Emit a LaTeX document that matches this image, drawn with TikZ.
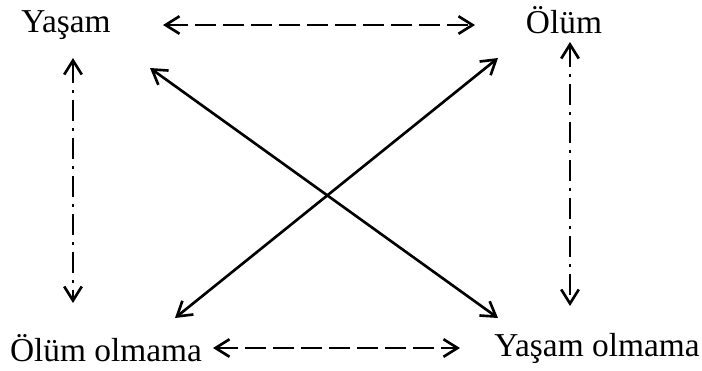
\documentclass[tikz,border=0pt]{standalone}
\usepackage{fontspec}
\setmainfont{Liberation Serif}
\usetikzlibrary{arrows.meta}
\begin{document}
\begin{tikzpicture}[x=0.02cm,y=-0.02cm,
  lbl/.style={inner sep=0pt,font=\fontsize{19}{21}\selectfont},
  conn/.style={line width=1.5pt,{Straight Barb[length=8pt,width=10pt,line width=1.5pt]}-{Straight Barb[length=8pt,width=10pt,line width=1.5pt]}},
  dsh/.style={conn,dash pattern=on 0.42cm off 0.14cm},
  dshdot/.style={conn,line width=1.3pt,dash pattern=on 0.42cm off 0.14cm on 0.06cm off 0.14cm}]
\useasboundingbox (0,0) rectangle (702,370);
\node[lbl] (y) at (66,25) {Yaşam};
\node[lbl] (o) at (564,20) {Ölüm};
\node[lbl] (on) at (106,348) {Ölüm olmama};
\node[lbl] (yn) at (597,348) {Yaşam olmama};
\coordinate (t1) at (163,25); \coordinate (t2) at (475,25);
\coordinate (b1) at (213,348); \coordinate (b2) at (460,348);
\coordinate (l1) at (73,58); \coordinate (l2) at (73,303);
\coordinate (r1) at (570,42); \coordinate (r2) at (570,306);
\coordinate (d1) at (150,68); \coordinate (d2) at (498,318);
\coordinate (e1) at (175,318); \coordinate (e2) at (498,58);
\draw[dsh] (t1) -- (t2);
\draw[dsh] (b1) -- (b2);
\draw[dshdot] (l1) -- (l2);
\draw[dshdot] (r1) -- (r2);
\draw[conn] (d1) -- (d2);
\draw[conn] (e1) -- (e2);
\end{tikzpicture}
\end{document}
